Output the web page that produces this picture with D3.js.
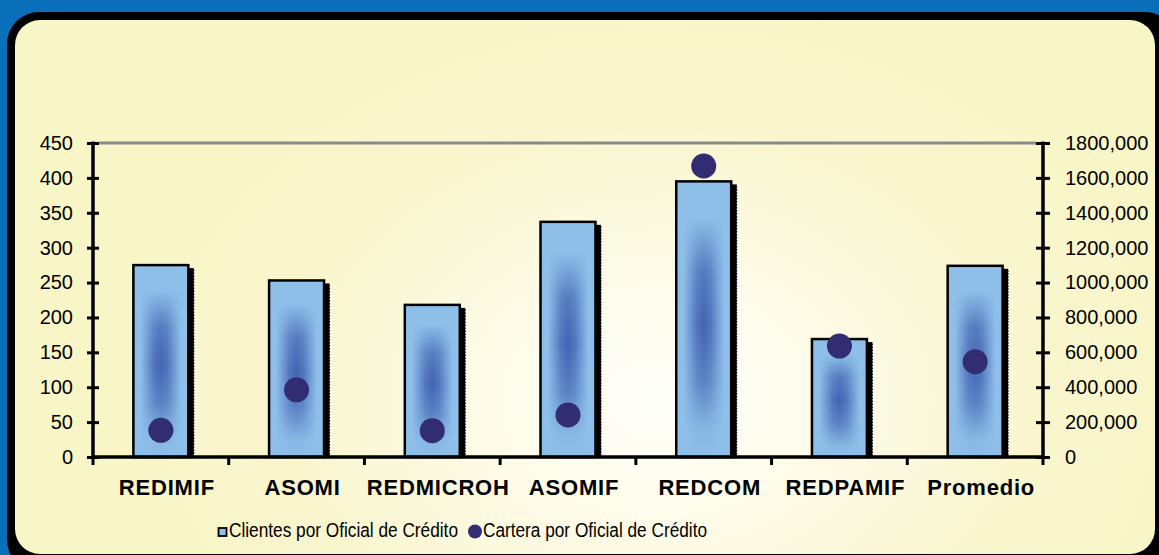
<!DOCTYPE html>
<html>
<head>
<meta charset="utf-8">
<script src="https://cdn.jsdelivr.net/npm/d3@7/dist/d3.min.js"></script>
<style>
  html, body { margin: 0; padding: 0; background: #0A6FB9; }
  svg { display: block; }
  text { font-family: "Liberation Sans", Arial, sans-serif; }
</style>
</head>
<body>
<svg id="chart" width="1159" height="555"></svg>
<script>
// ---- data ----
const categories = ["REDIMIF", "ASOMI", "REDMICROH", "ASOMIF", "REDCOM", "REDPAMIF", "Promedio"];
const clientes = [275, 253, 218, 337, 395, 169, 274];
const cartera = [153000, 385000, 151000, 241000, 1668000, 636000, 546000];
const leftTicks = [0, 50, 100, 150, 200, 250, 300, 350, 400, 450];
const rightTicks = [0, 200000, 400000, 600000, 800000, 1000000, 1200000, 1400000, 1600000, 1800000];
const seriesNames = ["Clientes por Oficial de Crédito", "Cartera por Oficial de Crédito"];

const svg = d3.select("#chart");
const defs = svg.append("defs");

// background gradient
const bg = defs.append("radialGradient").attr("id", "bgGrad")
  .attr("gradientUnits", "userSpaceOnUse")
  .attr("cx", 660).attr("cy", 400).attr("r", 560)
  .attr("gradientTransform", "translate(660,400) scale(1,0.75) translate(-660,-400)");
bg.append("stop").attr("offset", 0).attr("stop-color", "#FFFFFB");
bg.append("stop").attr("offset", 0.3).attr("stop-color", "#FDFBE8");
bg.append("stop").attr("offset", 0.65).attr("stop-color", "#F9F6CF");
bg.append("stop").attr("offset", 1).attr("stop-color", "#F8F5C6");

// bar gradients
const hg = defs.append("linearGradient").attr("id", "hGrad")
  .attr("x1", 0).attr("x2", 1).attr("y1", 0).attr("y2", 0);
[[0, 0], [0.13, 0], [0.38, 0.85], [0.5, 1], [0.62, 0.85], [0.87, 0], [1, 0]].forEach(([o, a]) =>
  hg.append("stop").attr("offset", o).attr("stop-color", "#4464B2").attr("stop-opacity", a));

const vg = defs.append("linearGradient").attr("id", "vGrad")
  .attr("x1", 0).attr("x2", 0).attr("y1", 0).attr("y2", 1);
[[0, 0], [0.13, 0], [0.32, 0.75], [0.52, 1], [0.72, 0.7], [0.9, 0.1], [1, 0]].forEach(([o, a]) =>
  vg.append("stop").attr("offset", o).attr("stop-color", "#fff").attr("stop-opacity", a));

defs.append("mask").attr("id", "vMask")
  .attr("maskContentUnits", "objectBoundingBox")
  .append("rect").attr("x", 0).attr("y", 0).attr("width", 1).attr("height", 1)
  .attr("fill", "url(#vGrad)");

// frame
svg.append("rect").attr("x", 0).attr("y", 0).attr("width", 1159).attr("height", 555).attr("fill", "#0A6FB9");
svg.append("rect").attr("x", 7).attr("y", 12).attr("width", 1170).attr("height", 560)
  .attr("rx", 32).attr("fill", "#000");
svg.append("rect").attr("x", 15).attr("y", 20).attr("width", 1140).attr("height", 534)
  .attr("rx", 25).attr("fill", "url(#bgGrad)");

// scales
const x = d3.scaleBand().domain(categories).range([93, 1043]);
const yL = d3.scaleLinear().domain([0, 450]).range([457, 143]);
const yR = d3.scaleLinear().domain([0, 1800000]).range([457, 143]);

// top line
svg.append("line").attr("x1", 99).attr("x2", 1036)
  .attr("y1", yL(450)).attr("y2", yL(450))
  .attr("stroke", "#8A8A8A").attr("stroke-width", 3);

// bars
const bw = x.bandwidth() * 0.405;
const bars = svg.append("g").selectAll("g").data(categories).join("g");
bars.each(function (c, i) {
  const g = d3.select(this);
  const bx = x(c) + (x.bandwidth() - bw) / 2;
  const by = yL(clientes[i]);
  const bh = yL(0) - by;
  // shadow
  g.append("rect").attr("x", bx + bw).attr("y", by + 3).attr("width", 6).attr("height", bh - 3).attr("fill", "#000");
  g.append("line").attr("x1", bx + bw + 6.5).attr("x2", bx + bw + 6.5)
    .attr("y1", by + 3).attr("y2", yL(0))
    .attr("stroke", "#fff").attr("stroke-width", 2).attr("stroke-dasharray", "1.5,1.5");
  g.append("rect").attr("x", bx).attr("y", by).attr("width", bw).attr("height", bh).attr("fill", "#8EBFE9");
  g.append("rect").attr("x", bx).attr("y", by).attr("width", bw).attr("height", bh)
    .attr("fill", "url(#hGrad)").attr("mask", "url(#vMask)");
  g.append("rect").attr("x", bx).attr("y", by).attr("width", bw).attr("height", bh)
    .attr("fill", "none").attr("stroke", "#000").attr("stroke-width", 2.5);
});

// axes
const axL = svg.append("g").attr("transform", "translate(93,0)")
  .call(d3.axisLeft(yL).tickValues(leftTicks).tickSize(6).tickPadding(14).tickFormat(d3.format("d")));
axL.select(".domain").remove();
axL.selectAll(".tick line").attr("x1", -6).attr("x2", 6).attr("stroke", "#000").attr("stroke-width", 3);
axL.selectAll("text").attr("font-size", 20).attr("fill", "#000");
svg.append("line").attr("x1", 93).attr("x2", 93).attr("y1", yL(450) - 1.5).attr("y2", yL(0) + 1.5)
  .attr("stroke", "#000").attr("stroke-width", 3.5);

const axR = svg.append("g").attr("transform", "translate(1043,0)")
  .call(d3.axisRight(yR).tickValues(rightTicks).tickSize(7).tickPadding(15)
    .tickFormat(v => v === 0 ? "0" : d3.format("d")(v / 1000) + ",000"));
axR.select(".domain").remove();
axR.selectAll(".tick line").attr("x1", -7).attr("x2", 7).attr("stroke", "#000").attr("stroke-width", 3);
axR.selectAll("text").attr("font-size", 20).attr("fill", "#000");
svg.append("line").attr("x1", 1043).attr("x2", 1043).attr("y1", yR(1800000) - 1.5).attr("y2", yR(0) + 1.5)
  .attr("stroke", "#000").attr("stroke-width", 3.5);

// x axis
const axB = svg.append("g").attr("transform", "translate(0,457)")
  .call(d3.axisBottom(x).tickSize(0).tickPadding(22));
axB.select(".domain").remove();
axB.selectAll("text").attr("font-size", 22).attr("font-weight", "bold")
  .attr("letter-spacing", "0.8px").attr("dx", 6).attr("fill", "#000");
svg.append("line").attr("x1", 93).attr("x2", 1043).attr("y1", 457).attr("y2", 457)
  .attr("stroke", "#000").attr("stroke-width", 3.5);
const bounds = categories.map(c => x(c)).concat([x.range()[1]]);
svg.append("g").selectAll("line").data(bounds).join("line")
  .attr("x1", d => d).attr("x2", d => d).attr("y1", 457).attr("y2", 465)
  .attr("stroke", "#000").attr("stroke-width", 3);

// dots
svg.append("g").selectAll("circle").data(categories).join("circle")
  .attr("cx", c => x(c) + x.bandwidth() / 2)
  .attr("cy", (c, i) => yR(cartera[i]))
  .attr("r", 12.5).attr("fill", "#322D73");

// legend
const lg = svg.append("g");
lg.append("rect").attr("x", 218.5).attr("y", 528).attr("width", 8).attr("height", 8)
  .attr("fill", "#8EBFE9").attr("stroke", "#000").attr("stroke-width", 1.8);
lg.append("text").attr("x", 229).attr("y", 536.5).attr("font-size", 20)
  .attr("textLength", 229).attr("lengthAdjust", "spacingAndGlyphs").text(seriesNames[0]);
lg.append("circle").attr("cx", 475).attr("cy", 531.5).attr("r", 7).attr("fill", "#322D73");
lg.append("text").attr("x", 483).attr("y", 536.5).attr("font-size", 20)
  .attr("textLength", 224).attr("lengthAdjust", "spacingAndGlyphs").text(seriesNames[1]);
</script>
</body>
</html>
